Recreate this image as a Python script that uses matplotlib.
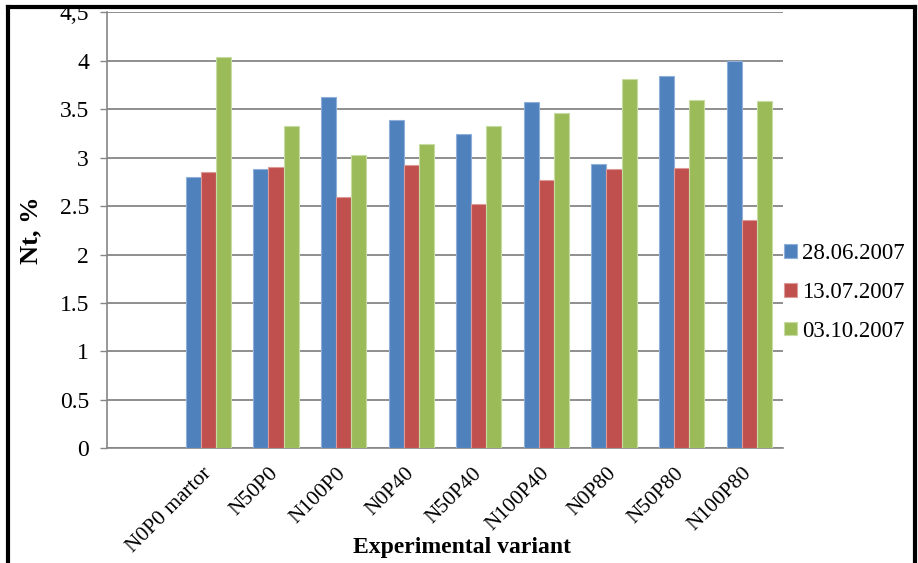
import numpy as np
import matplotlib
matplotlib.use('Agg')
import matplotlib.pyplot as plt
from matplotlib.lines import Line2D

plt.rcParams['font.family'] = ['Liberation Serif', 'DejaVu Serif']

variants = ['N0P0 martor', 'N50P0', 'N100P0', 'N0P40', 'N50P40',
            'N100P40', 'N0P80', 'N50P80', 'N100P80']
d_28_06 = [2.80, 2.88, 3.63, 3.39, 3.24, 3.57, 2.93, 3.84, 4.00]
d_13_07 = [2.85, 2.90, 2.59, 2.92, 2.52, 2.77, 2.88, 2.89, 2.36]
d_03_10 = [4.04, 3.33, 3.03, 3.14, 3.33, 3.46, 3.81, 3.60, 3.58]
series_names = ['28.06.2007', '13.07.2007', '03.10.2007']
y_ticks = [0, 0.5, 1, 1.5, 2, 2.5, 3, 3.5, 4, 4.5]
y_ticklabels = ['0', '0.5', '1', '1.5', '2', '2.5', '3', '3.5', '4', '4,5']

colors = ['#4F81BD', '#C0504D', '#9BBB59']
edges = ['#8FB0D8', '#DC9A98', '#C8DBA3']

fig = plt.figure(figsize=(9.18, 5.63), dpi=100)
ax = fig.add_axes([107 / 918, 1 - 448.3 / 563, 676 / 918, 436 / 563])

x = np.arange(1, len(variants) + 1)
w = 0.222
for i, vals in enumerate([d_28_06, d_13_07, d_03_10]):
    ax.bar(x + (i - 1) * w, vals, w, color=colors[i], edgecolor=edges[i],
           linewidth=0.8, label=series_names[i], zorder=3)

ax.set_xlim(-0.5, 9.5)
ax.set_ylim(0, 4.5)
ax.set_yticks(y_ticks)
ax.set_yticklabels(y_ticklabels, fontsize=17)
ax.set_xticks(x)
ax.set_xticklabels(variants, rotation=45, ha='right', va='center',
                   rotation_mode='anchor', fontsize=15.5)
ax.tick_params(axis='x', length=0, pad=16)
ax.tick_params(axis='y', length=5, color='#868686', width=1, pad=8)
ax.grid(axis='y', color='#868686', linewidth=1.3, zorder=0)
for s in ['top', 'right']:
    ax.spines[s].set_visible(False)
for s in ['left', 'bottom']:
    ax.spines[s].set_color('#868686')
    ax.spines[s].set_linewidth(1.2)

ax.set_ylabel('Nt, %', fontsize=19, fontweight='bold', labelpad=12)
fig.text(462 / 918, 1 - 548 / 563, 'Experimental variant', fontsize=17,
         fontweight='bold', ha='center', va='center')

ax.legend(loc='center left', bbox_to_anchor=(0.988, 0.358), frameon=False,
          fontsize=16.5, handlelength=0.55, handleheight=0.55, handletextpad=0.25,
          labelspacing=0.78, borderaxespad=0)

# outer frame (no bottom edge)
lw = 3
fig.add_artist(Line2D([8 / 918, 8 / 918], [0, 1 - 7 / 563], color='black', lw=lw))
fig.add_artist(Line2D([8 / 918, 915 / 918], [1 - 7 / 563, 1 - 7 / 563], color='black', lw=lw))
fig.add_artist(Line2D([915 / 918, 915 / 918], [0, 1 - 7 / 563], color='black', lw=lw))

plt.savefig('out.png', dpi=100)
